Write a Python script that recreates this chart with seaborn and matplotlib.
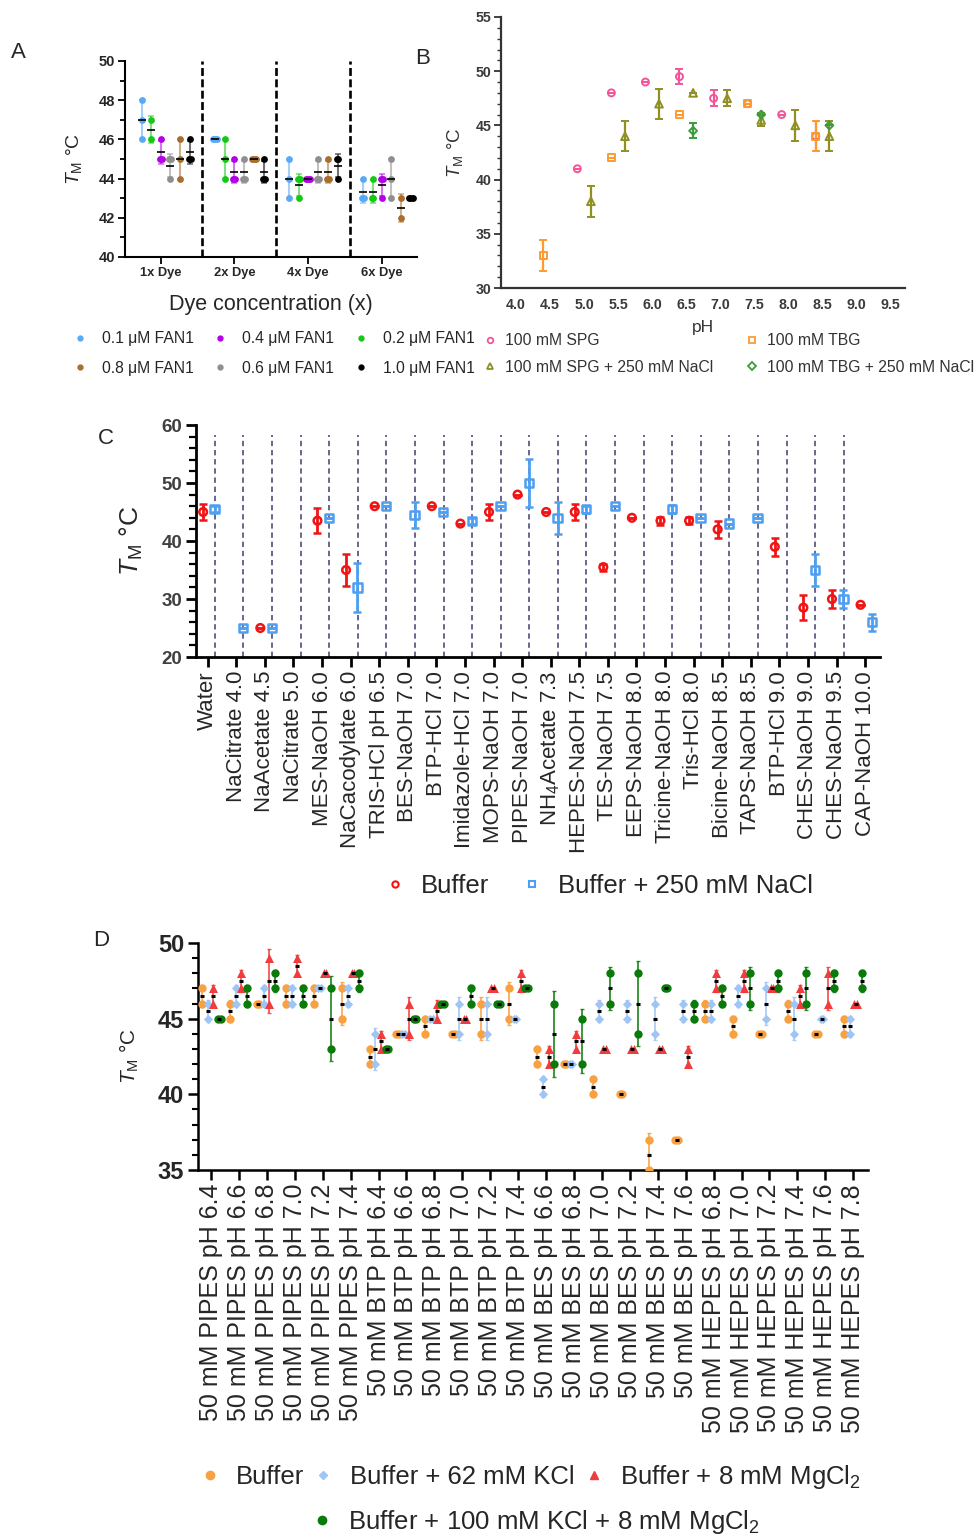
import numpy as np
import pandas as pd
import matplotlib
matplotlib.use("Agg")
import matplotlib.pyplot as plt
from matplotlib.lines import Line2D
from matplotlib.ticker import MultipleLocator, FormatStrFormatter
import seaborn as sns

sns.set_theme(style="ticks")
plt.rcParams["font.family"] = ["Liberation Sans", "DejaVu Sans"]
plt.rcParams["mathtext.fontset"] = "custom"
plt.rcParams["mathtext.rm"] = "Liberation Sans"
plt.rcParams["mathtext.it"] = "Liberation Sans:italic"
plt.rcParams["mathtext.bf"] = "Liberation Sans:bold"

TM_LABEL = r"$\mathit{T}_{\mathrm{M}}$ °C"

# ---------------- A: dye titration ----------------
dye_levels = ["1x Dye", "2x Dye", "4x Dye", "6x Dye"]
fan1_labels = ["0.1 μM FAN1", "0.2 μM FAN1", "0.4 μM FAN1",
               "0.6 μM FAN1", "0.8 μM FAN1", "1.0 μM FAN1"]
fan1_colors = ["#5aa9f5", "#14c814", "#b400e6", "#8f8f8f", "#a86e2e", "#000000"]
tm_fan1_01 = [[48, 47, 46], [46, 46, 46], [45, 44, 43], [44, 43, 43]]
tm_fan1_02 = [[47, 46], [46, 45, 44], [44, 44, 43], [44, 43, 43]]
tm_fan1_04 = [[46, 45, 45], [45, 44, 44], [44, 44, 44], [44, 44, 43]]
tm_fan1_06 = [[45, 45, 44], [45, 44, 44], [45, 44, 44], [45, 44, 43]]
tm_fan1_08 = [[46, 45, 44], [45, 45, 45], [45, 44, 44], [43, 42]]
tm_fan1_10 = [[46, 45, 45], [45, 44, 44], [45, 45, 44], [43, 43, 43]]

# ---------------- B: pH screen ----------------
ph_spg = [4.9, 5.4, 5.9, 6.4, 6.9, 7.4, 7.9, 8.4]
tm_spg = [41, 48, 49, 49.5, 47.5, 47, 46, 44]
sd_spg = [0, 0, 0, 0.7, 0.75, 0, 0, 1.4]
ph_spg_nacl = [5.1, 5.6, 6.1, 6.6, 7.1, 7.6, 8.1, 8.6]
tm_spg_nacl = [38, 44, 47, 48, 47.5, 45.5, 45, 44]
sd_spg_nacl = [1.45, 1.4, 1.4, 0, 0.75, 0.6, 1.45, 1.4]
ph_tbg = [4.4, 5.4, 6.4, 7.4, 8.4]
tm_tbg = [33, 42, 46, 47, 44]
sd_tbg = [1.45, 0, 0, 0, 1.4]
ph_tbg_nacl = [6.6, 7.6, 8.6]
tm_tbg_nacl = [44.5, 46, 45]
sd_tbg_nacl = [0.7, 0, 0]

# ---------------- C: buffer screen ----------------
nan = np.nan
buffers = ["Water", "NaCitrate 4.0", "NaAcetate 4.5", "NaCitrate 5.0", "MES-NaOH 6.0",
           "NaCacodylate 6.0", "TRIS-HCl pH 6.5", "BES-NaOH 7.0", "BTP-HCl 7.0",
           "Imidazole-HCl 7.0", "MOPS-NaOH 7.0", "PIPES-NaOH 7.0", "NH$_4$Acetate 7.3",
           "HEPES-NaOH 7.5", "TES-NaOH 7.5", "EEPS-NaOH 8.0", "Tricine-NaOH 8.0",
           "Tris-HCl 8.0", "Bicine-NaOH 8.5", "TAPS-NaOH 8.5", "BTP-HCl 9.0",
           "CHES-NaOH 9.0", "CHES-NaOH 9.5", "CAP-NaOH 10.0"]
tm_buffer = [45, nan, 25, nan, 43.5, 35, 46, nan, 46, 43, 45, 48, 45, 45, 35.5, 44,
             43.5, 43.5, 42, nan, 39, 28.5, 30, 29]
sd_buffer = [1.35, 0, 0, 0, 2.15, 2.8, 0, 0, 0, 0, 1.35, 0, 0, 1.35, 0.6, 0,
             0.7, 0.6, 1.4, 0, 1.5, 2.15, 1.6, 0]
tm_nacl = [45.5, 25, 25, nan, 44, 32, 46, 44.5, 45, 43.5, 46, 50, 44, 45.5, 46, nan,
           45.5, 44, 43, 44, nan, 35, 30, 26]
sd_nacl = [0.5, 0, 0, 0, 0, 4.2, 0, 2.2, 0, 0.5, 0, 4.2, 2.8, 0.6, 0, 0,
           0.7, 0, 0, 0, 0, 2.8, 1.6, 1.5]

# ---------------- D: salt additives ----------------
d_conditions = ([f"50 mM PIPES pH {p}" for p in ["6.4", "6.6", "6.8", "7.0", "7.2", "7.4"]]
                + [f"50 mM BTP pH {p}" for p in ["6.4", "6.6", "6.8", "7.0", "7.2", "7.4"]]
                + [f"50 mM BES pH {p}" for p in ["6.6", "6.8", "7.0", "7.2", "7.4", "7.6"]]
                + [f"50 mM HEPES pH {p}" for p in ["6.8", "7.0", "7.2", "7.4", "7.6", "7.8"]])
tm_d_buffer = [[47, 46], [46, 45], [46, 46], [47, 46], [47, 46], [47, 45],
               [43, 42], [44, 44], [45, 44], [44, 44], [46, 44], [47, 45],
               [43, 42], [42, 42], [41, 40], [40, 40], [37, 35], [37, 37],
               [46, 45], [45, 44], [44, 44], [46, 45], [44, 44], [45, 44]]
tm_d_kcl = [[46, 45], [47, 46], [47, 46], [47, 46], [47, 47], [47, 46],
            [44, 42], [44, 44], [45, 45], [46, 44], [46, 44], [45, 45],
            [41, 40], [42, 42], [46, 45], [46, 45], [46, 44], [46, 45],
            [46, 45], [47, 46], [47, 45], [46, 44], [45, 45], [45, 44]]
tm_d_mgcl2 = [[47, 46], [48, 47], [49, 46], [49, 48], [48, 48], [48, 48],
              [44, 43], [46, 44], [46, 45], [45, 45], [47, 47], [48, 47],
              [43, 42], [44, 43], [43, 43], [43, 43], [43, 43], [43, 42],
              [48, 47], [48, 47], [47, 47], [47, 46], [48, 46], [46, 46]]
tm_d_kcl_mgcl2 = [[45, 45], [47, 46], [48, 47], [47, 46], [47, 43], [48, 47],
                  [43, 43], [45, 45], [46, 46], [47, 46], [46, 46], [47, 47],
                  [46, 42], [45, 42], [48, 46], [48, 44], [47, 47], [46, 45],
                  [47, 46], [48, 46], [48, 47], [48, 46], [48, 47], [48, 47]]
d_series = ["Buffer", "Buffer + 62 mM KCl", "Buffer + 8 mM MgCl$_2$",
            "Buffer + 100 mM KCl + 8 mM MgCl$_2$"]
d_colors = ["#f9a040", "#9ec5f5", "#f03c3c", "#0a7a0a"]
d_markers = ["o", "D", "^", "o"]

W, H = 975, 1537
fig = plt.figure(figsize=(W / 100, H / 100), dpi=100)


def add_axes_px(x0, y0, x1, y1):
    return fig.add_axes([x0 / W, 1 - y1 / H, (x1 - x0) / W, (y1 - y0) / H])


def style_axes(ax, color="black", lw=1.5):
    sns.despine(ax=ax)
    for side in ("left", "bottom"):
        ax.spines[side].set_linewidth(lw)
        ax.spines[side].set_color(color)
    ax.grid(False)


def tie_offsets(values, step):
    """Horizontal offsets so that tied replicates sit side by side."""
    vals = np.asarray(values, float)
    offs = np.zeros(len(vals))
    for v in np.unique(vals):
        idx = np.where(vals == v)[0]
        offs[idx] = (np.arange(len(idx)) - (len(idx) - 1) / 2) * step
    return offs


def long_table(cells_by_series, names, offsets, step):
    rows = []
    for name, cells, off in zip(names, cells_by_series, offsets):
        for i, vals in enumerate(cells):
            for x, v in zip(i + off + tie_offsets(vals, step), vals):
                rows.append((name, i, off, x, v))
    return pd.DataFrame(rows, columns=["series", "cat", "off", "x", "tm"])


def replicate_panel(ax, df, names, colors, markers, sizes, bar_kw, mean_kw):
    for name, color, marker, s in zip(names, colors, markers, sizes):
        sub = df[df.series == name]
        sns.scatterplot(data=sub, x="x", y="tm", color=color, marker=marker, s=s,
                        linewidth=0, legend=False, ax=ax, zorder=3)
        stats = sub.groupby("cat").agg(mean=("tm", "mean"), sd=("tm", "std"), off=("off", "first"))
        xs = stats.index.values + stats["off"].values
        ax.errorbar(xs, stats["mean"], yerr=stats["sd"].fillna(0), fmt="none",
                    ecolor=color, zorder=2, **bar_kw)
        ax.plot(xs, stats["mean"], ls="none", marker="_", color="black", zorder=4, **mean_kw)


# ======================= Panel A =======================
axA = add_axes_px(125, 61, 417, 257)
a_offsets = [-0.26, -0.125, 0.0, 0.13, 0.265, 0.4]
dfA = long_table([tm_fan1_01, tm_fan1_02, tm_fan1_04, tm_fan1_06, tm_fan1_08, tm_fan1_10],
                 fan1_labels, a_offsets, 0.025)
replicate_panel(axA, dfA, fan1_labels, fan1_colors, ["o"] * 6, [24] * 6,
                dict(elinewidth=1.5, capsize=2.5, capthick=1.2, alpha=0.55),
                dict(ms=5.5, mew=1.2))
for xd in [0.555, 1.56, 2.565]:
    axA.plot([xd, xd], [40, 50], color="black", lw=1.9, ls=(0, (3.0, 1.3)), zorder=1)
axA.set_xlim(-0.484, 3.478)
axA.set_ylim(40, 50)
axA.yaxis.set_major_locator(MultipleLocator(2))
axA.yaxis.set_minor_locator(MultipleLocator(1))
axA.set_xticks(range(len(dye_levels)))
axA.set_xticklabels(dye_levels, fontsize=9.3, fontweight="bold")
for lab in axA.get_yticklabels():
    lab.set_fontsize(10.5)
    lab.set_fontweight("bold")
axA.tick_params(axis="both", which="both", direction="out", width=1.3, color="black")
axA.tick_params(axis="both", which="major", length=5, pad=2)
axA.tick_params(axis="y", which="minor", length=3.5)
axA.set_xlabel("Dye concentration (x)", fontsize=15.5, labelpad=11)
axA.set_ylabel(TM_LABEL, fontsize=14)
axA.yaxis.set_label_coords(-0.14, 0.5)
style_axes(axA, lw=1.5)

handlesA = [Line2D([], [], ls="none", marker="o", ms=3.5, color=c) for c in fan1_colors]
orderA = [0, 4, 2, 3, 1, 5]
fig.legend([handlesA[i] for i in orderA], [fan1_labels[i] for i in orderA],
           loc="center left", bbox_to_anchor=(72 / W, 1 - 353.5 / H), ncol=3,
           frameon=False, fontsize=11.3, handlelength=1.0, handletextpad=0.9,
           columnspacing=1.2, labelspacing=0.95, borderpad=0, borderaxespad=0)

# ======================= Panel B =======================
axB = add_axes_px(501, 17, 905, 288)
b_sets = [
    (ph_spg, tm_spg, sd_spg, "#f2559a", "o", 5.0, "100 mM SPG"),
    (ph_tbg, tm_tbg, sd_tbg, "#ff9a30", "s", 5.0, "100 mM TBG"),
    (ph_spg_nacl, tm_spg_nacl, sd_spg_nacl, "#8f8f22", "^", 5.5, "100 mM SPG + 250 mM NaCl"),
    (ph_tbg_nacl, tm_tbg_nacl, sd_tbg_nacl, "#3c9c3c", "D", 4.0, "100 mM TBG + 250 mM NaCl"),
]
for ph, tm, sd, color, marker, ms, name in b_sets:
    pts = pd.DataFrame({"pH": ph, "tm": tm})
    sns.scatterplot(data=pts, x="pH", y="tm", color=color, marker=marker,
                    s=ms ** 2, facecolor="none", edgecolor=color, linewidth=1.4,
                    legend=False, ax=axB, zorder=3)
    axB.errorbar(ph, tm, yerr=sd, fmt="none", ecolor=color, elinewidth=1.6,
                 capsize=3, capthick=1.4, zorder=2)
axB.set_xlim(3.78, 9.71)
axB.set_ylim(30, 55)
axB.set_xticks(np.arange(4.0, 9.51, 0.5))
axB.xaxis.set_major_formatter(FormatStrFormatter("%.1f"))
axB.yaxis.set_major_locator(MultipleLocator(5))
axB.yaxis.set_minor_locator(MultipleLocator(1))
for lab in axB.get_xticklabels() + axB.get_yticklabels():
    lab.set_fontsize(10.2)
    lab.set_fontweight("bold")
    lab.set_color("#3a3a3a")
axB.tick_params(axis="x", which="both", length=0, pad=7)
axB.tick_params(axis="y", which="major", length=5, width=1.3, color="#333333", pad=2)
axB.tick_params(axis="y", which="minor", length=3, width=1.0, color="#333333")
axB.set_xlabel("pH", fontsize=12.5, color="#333333", labelpad=6)
axB.set_ylabel(TM_LABEL, fontsize=13.5, color="#333333")
axB.yaxis.set_label_coords(-0.09, 0.5)
style_axes(axB, color="#333333", lw=1.6)

handlesB = [Line2D([], [], ls="none", marker=m, ms=4, mfc="none", mec=c, mew=1.3)
            for _, _, _, c, m, _, _ in b_sets]
namesB = [s[-1] for s in b_sets]
orderB = [0, 2, 1, 3]
fig.legend([handlesB[i] for i in orderB], [namesB[i] for i in orderB],
           loc="center left", bbox_to_anchor=(485 / W, 1 - 354 / H), ncol=2,
           frameon=False, fontsize=11.3, handlelength=0.6, handletextpad=0.66,
           columnspacing=2.2, labelspacing=0.72, borderpad=0, borderaxespad=0,
           labelcolor="#333333")

# ======================= Panel C =======================
axC = add_axes_px(196, 425, 880, 657)
c_pos = np.arange(len(buffers))
dfC = pd.DataFrame({"pos": np.concatenate([c_pos - 0.16, c_pos + 0.24]),
                    "tm": np.concatenate([tm_buffer, tm_nacl]),
                    "sd": np.concatenate([sd_buffer, sd_nacl]),
                    "series": ["Buffer"] * len(buffers) + ["Buffer + 250 mM NaCl"] * len(buffers)})
c_style = {"Buffer": ("#f01414", "o", 5.5), "Buffer + 250 mM NaCl": ("#4d9ff2", "s", 6.0)}
for name, (color, marker, ms) in c_style.items():
    sub = dfC[dfC.series == name].dropna(subset=["tm"])
    sns.scatterplot(data=sub, x="pos", y="tm", color=color, marker=marker, s=ms ** 2,
                    facecolor="none", edgecolor=color, linewidth=1.8,
                    legend=False, ax=axC, zorder=3)
    axC.errorbar(sub["pos"], sub["tm"], yerr=sub["sd"], fmt="none", ecolor=color,
                 elinewidth=2.0, capsize=3, capthick=1.8, zorder=2)
for xd in c_pos[:-1] + 0.25:
    axC.plot([xd, xd], [20, 58.3], color="#3e3e70", lw=1.1, ls=(0, (3.5, 2.5)), zorder=1)
axC.set_xlim(-0.41, 23.52)
axC.set_ylim(20, 60)
axC.yaxis.set_major_locator(MultipleLocator(10))
axC.yaxis.set_minor_locator(MultipleLocator(2))
axC.set_xticks(c_pos)
axC.set_xticklabels(buffers, rotation=90, fontsize=16)
for lab in axC.get_yticklabels():
    lab.set_fontsize(13.5)
    lab.set_fontweight("bold")
    lab.set_color("#404040")
axC.tick_params(axis="x", which="major", length=7, width=2.0, color="black", pad=3)
axC.tick_params(axis="y", which="major", length=7, width=2.0, color="black", pad=3)
axC.tick_params(axis="y", which="minor", length=5, width=1.6, color="black")
axC.set_xlabel("")
axC.set_ylabel(TM_LABEL, fontsize=19)
axC.yaxis.set_label_coords(-0.075, 0.5)
style_axes(axC, lw=2.0)

handlesC = [Line2D([], [], ls="none", marker=m, ms=4.5, mfc="none", mec=c, mew=1.5)
            for c, m, _ in c_style.values()]
fig.legend(handlesC, list(c_style.keys()), loc="center left",
           bbox_to_anchor=(387 / W, 1 - 886 / H), ncol=2, frameon=False, fontsize=18.5,
           handlelength=0.6, handletextpad=0.72, columnspacing=1.36,
           borderpad=0, borderaxespad=0)

# ======================= Panel D =======================
axD = add_axes_px(198, 943, 868, 1170)
d_offsets = [-0.32, -0.11, 0.09, 0.30]
dfD = long_table([tm_d_buffer, tm_d_kcl, tm_d_mgcl2, tm_d_kcl_mgcl2],
                 d_series, d_offsets, 0.09)
replicate_panel(axD, dfD, d_series, d_colors, d_markers, [36, 22, 42, 36],
                dict(elinewidth=1.3, capsize=1.5, capthick=1.0, alpha=0.85),
                dict(ms=3.5, mew=2.2))
axD.set_xlim(-0.465, 23.53)
axD.set_ylim(35, 50)
axD.yaxis.set_major_locator(MultipleLocator(5))
axD.yaxis.set_minor_locator(MultipleLocator(1))
axD.set_xticks(range(len(d_conditions)))
axD.set_xticklabels(d_conditions, rotation=90, fontsize=18)
for lab in axD.get_yticklabels():
    lab.set_fontsize(17)
    lab.set_fontweight("bold")
axD.tick_params(axis="x", which="major", length=7, width=1.8, color="black", pad=3)
axD.tick_params(axis="y", which="major", length=7, width=1.8, color="black", pad=3)
axD.tick_params(axis="y", which="minor", length=4.5, width=1.5, color="black")
axD.set_xlabel("")
axD.set_ylabel(TM_LABEL, fontsize=15)
axD.yaxis.set_label_coords(-0.085, 0.5)
style_axes(axD, lw=1.8)

handlesD = [Line2D([], [], ls="none", marker=m, ms=6 if m != "D" else 4.5, color=c)
            for c, m in zip(d_colors, d_markers)]
fig.legend(handlesD[:3], d_series[:3], loc="center left",
           bbox_to_anchor=(202 / W, 1 - 1477 / H), ncol=3, frameon=False, fontsize=18.5,
           handlelength=0.6, handletextpad=0.72, columnspacing=0.45,
           borderpad=0, borderaxespad=0)
fig.legend(handlesD[3:], d_series[3:], loc="center left",
           bbox_to_anchor=(314 / W, 1 - 1522 / H), ncol=1, frameon=False, fontsize=18.5,
           handlelength=0.6, handletextpad=0.72, borderpad=0, borderaxespad=0)

# panel letters
for letter, (px, py) in {"A": (18, 53), "B": (423, 58), "C": (106, 438), "D": (101, 940)}.items():
    fig.text(px / W, 1 - py / H, letter, fontsize=16, ha="center", va="center")

fig.savefig("out.png", dpi=100, facecolor="white")
